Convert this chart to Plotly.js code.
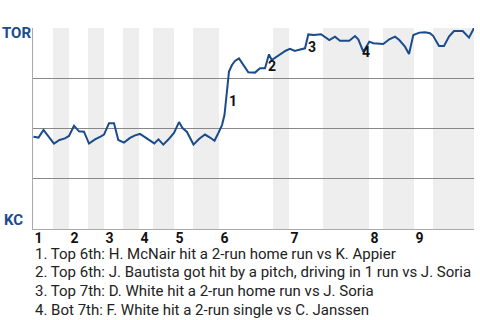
<!DOCTYPE html>
<html>
<head>
<meta charset="utf-8">
<script src="https://cdn.plot.ly/plotly-3.0.1.min.js"></script>
<style>html,body{margin:0;padding:0;background:#fff;}#chart{width:480px;height:320px;}</style>
</head>
<body>
<div id="chart"></div>
<script>
// Game progress (% of game) and Toronto win probability
const progress = [0.1,1.25,2.38,3.47,4.76,6.01,7.26,8.16,9.30,10.43,11.56,12.70,14.06,15.31,16.10,17.23,18.37,19.34,20.63,22.00,23.13,24.26,25.40,26.53,27.51,28.46,29.55,30.68,31.97,33.11,33.90,34.92,36.39,37.64,39.00,40.14,41.16,42.06,42.86,43.42,44.44,45.12,45.80,46.71,47.69,48.82,50.34,51.47,52.61,53.51,54.13,55.26,56.39,57.30,58.28,59.41,60.16,61.68,62.43,63.72,65.31,66.21,67.19,68.48,69.61,71.72,73.02,73.76,74.90,76.26,77.17,79.43,80.79,82.09,83.06,84.35,85.26,86.24,87.60,88.89,90.02,90.77,92.06,93.20,94.33,95.46,97.44,98.87,100];
const torWinProb = [0.459,0.455,0.493,0.463,0.425,0.443,0.451,0.463,0.514,0.486,0.484,0.425,0.446,0.460,0.470,0.526,0.526,0.443,0.430,0.453,0.466,0.473,0.456,0.439,0.426,0.446,0.420,0.445,0.478,0.532,0.502,0.483,0.420,0.448,0.470,0.455,0.439,0.479,0.517,0.567,0.783,0.816,0.836,0.849,0.819,0.780,0.778,0.800,0.800,0.869,0.841,0.857,0.874,0.887,0.896,0.886,0.891,0.899,0.968,0.965,0.969,0.957,0.940,0.957,0.937,0.937,0.960,0.944,0.882,0.932,0.924,0.920,0.944,0.957,0.940,0.907,0.871,0.965,0.977,0.979,0.974,0.960,0.910,0.910,0.957,0.985,0.985,0.952,1.0];

// Inning starts (top half) and bottom-half starts, in % of game
const inningStart = [0,8.16,16.10,24.04,31.97,42.18,58.05,76.19,86.39];
const bottomStart = [4.54,12.47,20.41,27.21,36.28,54.42,65.76,79.37,90.70];
const inningLabels = ["1","2","3","4","5","6","7","8","9"];

// Key events: index into the series and caption
const eventIndex = [40,49,58,68];
const eventLabels = ["1","2","3","4"];
const eventNotes = [
  "1. Top 6th: H. McNair hit a 2-run home run vs K. Appier",
  "2. Top 6th: J. Bautista got hit by a pitch, driving in 1 run vs J. Soria",
  "3. Top 7th: D. White hit a 2-run home run vs J. Soria",
  "4. Bot 7th: F. White hit a 2-run single vs C. Janssen"
];
const teamTop = "TOR", teamBottom = "KC";

const lineColor = "#1a4b8c";
const evShift = [[4,-29],[3,-12],[4,-13],[3,0]];

const shapes = bottomStart.map((b,i)=>({
  type:"rect", xref:"x", yref:"paper", layer:"below",
  x0:b, x1:(i+1<inningStart.length?inningStart[i+1]:100), y0:0, y1:1,
  fillcolor:"#eeeeee", line:{width:0}
}));

const annotations = [];
eventIndex.forEach((idx,i)=>{
  annotations.push({x:progress[idx], y:torWinProb[idx], xref:"x", yref:"y",
    text:"<b>"+eventLabels[i]+"</b>", showarrow:false,
    xshift:evShift[i][0], yshift:evShift[i][1],
    font:{family:"Roboto", size:14, color:"#111"}});
});
annotations.push({xref:"paper", yref:"paper", x:-0.0385, y:0.975, xanchor:"center", yanchor:"middle",
  text:"<b>"+teamTop+"</b>", showarrow:false, font:{family:"Roboto", size:15, color:lineColor}});
annotations.push({xref:"paper", yref:"paper", x:-0.045, y:0.045, xanchor:"center", yanchor:"middle",
  text:"<b>"+teamBottom+"</b>", showarrow:false, font:{family:"Roboto", size:15, color:lineColor}});
eventNotes.forEach((t,i)=>{
  annotations.push({xref:"paper", yref:"paper", x:0.0, y:-0.122 - i*0.0935,
    xanchor:"left", yanchor:"middle", text:t, showarrow:false,
    font:{family:"Roboto", size:15, color:"#222"}});
});

Plotly.newPlot("chart", [{
  x: progress, y: torWinProb, type:"scatter", mode:"lines",
  line:{color:lineColor, width:2}, hoverinfo:"skip"
}], {
  width:480, height:320,
  margin:{l:33, r:6, t:28, b:91},
  paper_bgcolor:"#fff", plot_bgcolor:"rgba(0,0,0,0)",
  showlegend:false,
  xaxis:{range:[0,100], tickvals:inningStart, ticktext:inningLabels,
    ticklabelposition:"outside right", ticklabelstandoff:-4, ticklabelshift:1,
    ticks:"", showgrid:false, zeroline:false,
    showline:true, linecolor:"#aaa", linewidth:1,
    tickfont:{family:"Roboto", size:14, color:"#111", weight:"bold"}},
  yaxis:{range:[0,1], tickvals:[0.25,0.5,0.75,1], showticklabels:false, ticks:"",
    showgrid:true, gridcolor:"#888", gridwidth:1, zeroline:false,
    showline:true, linecolor:"#aaa", linewidth:1},
  shapes: shapes,
  annotations: annotations
}, {displayModeBar:false, staticPlot:true});
</script>
</body>
</html>
